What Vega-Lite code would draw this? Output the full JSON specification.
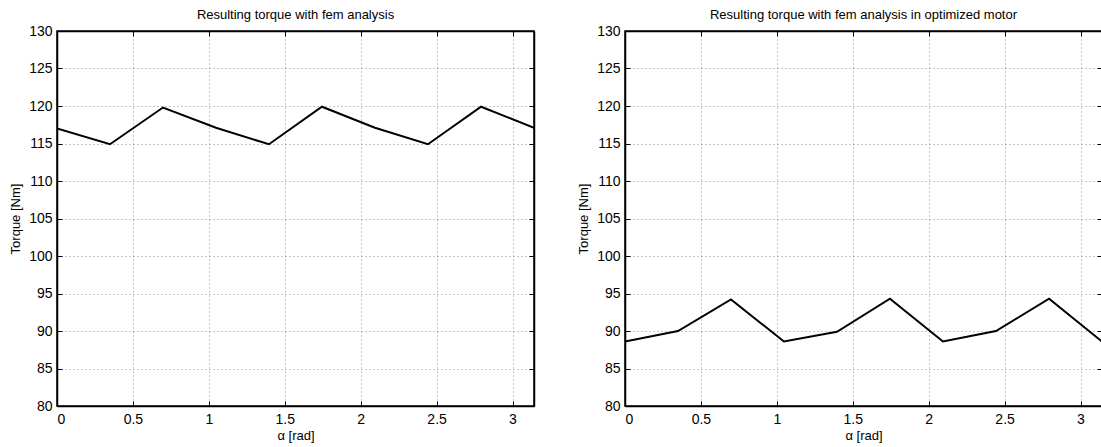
{
  "$schema": "https://vega.github.io/schema/vega-lite/v6.json",
  "padding": {"left": 8, "top": 8, "right": 0, "bottom": 0},
  "background": "white",
  "spacing": 40,
  "config": {
    "font": "Liberation Sans",
    "view": {"stroke": "black", "strokeWidth": 1.5},
    "title": {"fontSize": 13, "fontWeight": "normal", "color": "black", "offset": 2, "anchor": "middle", "baseline": "alphabetic"},
    "axis": {
      "labelFontSize": 14, "labelColor": "black", "labelFont": "Liberation Sans",
      "titleFontSize": 13, "titleFontWeight": "normal", "titleColor": "black", "titleFont": "Liberation Sans",
      "domainColor": "black", "domainWidth": 1.5, "tickColor": "black", "tickSize": -5, "tickWidth": 1,
      "gridColor": "#8a8a8a", "gridDash": [1, 3], "gridOpacity": 1, "gridWidth": 1
    }
  },
  "hconcat": [
    {
      "title": "Resulting torque with fem analysis",
      "width": 477, "height": 375,
      "data": {"values": [
        {"alpha": 0, "torque": 117.0},
        {"alpha": 0.349, "torque": 114.9},
        {"alpha": 0.698, "torque": 119.8},
        {"alpha": 1.047, "torque": 117.1},
        {"alpha": 1.396, "torque": 114.9},
        {"alpha": 1.745, "torque": 119.9},
        {"alpha": 2.094, "torque": 117.1},
        {"alpha": 2.443, "torque": 114.9},
        {"alpha": 2.793, "torque": 119.9},
        {"alpha": 3.1416, "torque": 117.1}
      ]},
      "layer": [
        {
          "mark": {"type": "line", "color": "black", "strokeWidth": 2, "clip": true},
          "encoding": {
            "x": {"field": "alpha", "type": "quantitative", "scale": {"domain": [0, 3.14159265], "nice": false, "zero": false},
                  "axis": {"orient": "bottom", "title": "α [rad]", "values": [0, 0.5, 1, 1.5, 2, 2.5, 3], "format": "~g", "labelPadding": 11, "titlePadding": 3, "grid": true}},
            "y": {"field": "torque", "type": "quantitative", "scale": {"domain": [80, 130], "nice": false, "zero": false},
                  "axis": {"orient": "left", "title": "Torque [Nm]", "values": [80, 85, 90, 95, 100, 105, 110, 115, 120, 125, 130], "labelPadding": 10, "titlePadding": 6, "grid": true}}
          }
        },
        {
          "mark": {"type": "line", "opacity": 0},
          "encoding": {
            "x": {"field": "alpha", "type": "quantitative", "scale": {"domain": [0, 3.14159265], "nice": false, "zero": false},
                  "axis": {"orient": "top", "title": null, "labels": false, "grid": false, "values": [0, 0.5, 1, 1.5, 2, 2.5, 3]}},
            "y": {"field": "torque", "type": "quantitative", "scale": {"domain": [80, 130], "nice": false, "zero": false},
                  "axis": {"orient": "right", "title": null, "labels": false, "grid": false, "values": [80, 85, 90, 95, 100, 105, 110, 115, 120, 125, 130]}}
          }
        }
      ],
      "resolve": {"axis": {"x": "independent", "y": "independent"}}
    },
    {
      "title": "Resulting torque with fem analysis in optimized motor",
      "width": 477, "height": 375,
      "data": {"values": [
        {"alpha": 0, "torque": 88.6},
        {"alpha": 0.349, "torque": 90.0},
        {"alpha": 0.698, "torque": 94.2},
        {"alpha": 1.047, "torque": 88.6},
        {"alpha": 1.396, "torque": 89.9},
        {"alpha": 1.745, "torque": 94.3},
        {"alpha": 2.094, "torque": 88.6},
        {"alpha": 2.443, "torque": 90.0},
        {"alpha": 2.793, "torque": 94.3},
        {"alpha": 3.1416, "torque": 88.6}
      ]},
      "layer": [
        {
          "mark": {"type": "line", "color": "black", "strokeWidth": 2, "clip": true},
          "encoding": {
            "x": {"field": "alpha", "type": "quantitative", "scale": {"domain": [0, 3.14159265], "nice": false, "zero": false},
                  "axis": {"orient": "bottom", "title": "α [rad]", "values": [0, 0.5, 1, 1.5, 2, 2.5, 3], "format": "~g", "labelPadding": 11, "titlePadding": 3, "grid": true}},
            "y": {"field": "torque", "type": "quantitative", "scale": {"domain": [80, 130], "nice": false, "zero": false},
                  "axis": {"orient": "left", "title": "Torque [Nm]", "values": [80, 85, 90, 95, 100, 105, 110, 115, 120, 125, 130], "labelPadding": 10, "titlePadding": 6, "grid": true}}
          }
        },
        {
          "mark": {"type": "line", "opacity": 0},
          "encoding": {
            "x": {"field": "alpha", "type": "quantitative", "scale": {"domain": [0, 3.14159265], "nice": false, "zero": false},
                  "axis": {"orient": "top", "title": null, "labels": false, "grid": false, "values": [0, 0.5, 1, 1.5, 2, 2.5, 3]}},
            "y": {"field": "torque", "type": "quantitative", "scale": {"domain": [80, 130], "nice": false, "zero": false},
                  "axis": {"orient": "right", "title": null, "labels": false, "grid": false, "values": [80, 85, 90, 95, 100, 105, 110, 115, 120, 125, 130]}}
          }
        }
      ],
      "resolve": {"axis": {"x": "independent", "y": "independent"}}
    }
  ]
}
